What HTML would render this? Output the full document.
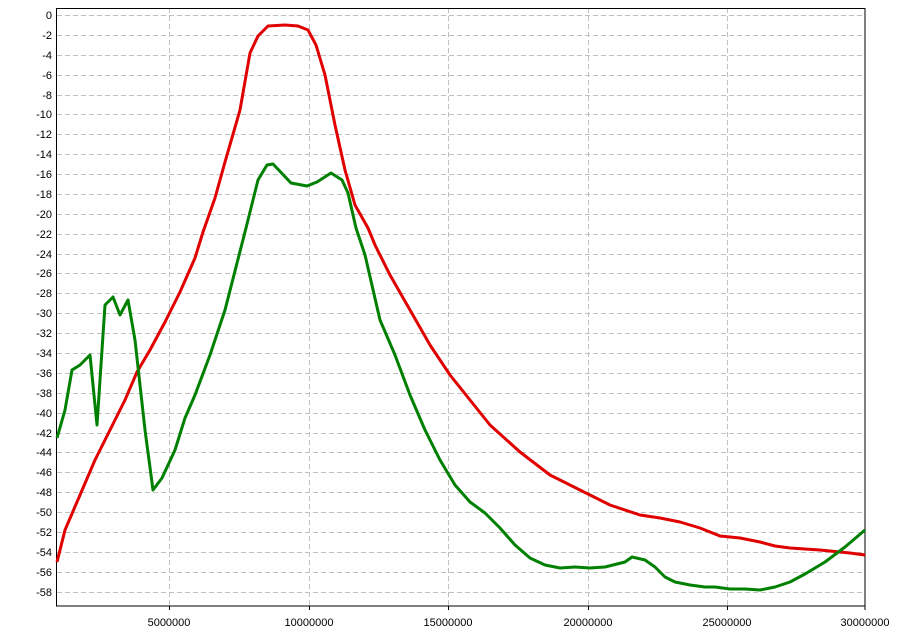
<!DOCTYPE html><html><head><style>body{margin:0;background:#fff}svg{display:block;font-family:"Liberation Sans",sans-serif;font-size:11px}</style></head><body>
<svg width="902" height="631" xmlns="http://www.w3.org/2000/svg">
<rect width="902" height="631" fill="#fff"/>
<g stroke="#c0c0c0" stroke-dasharray="5,3" stroke-width="1">
<path d="M57 15.5H865M57 35.5H865M57 55.5H865M57 75.5H865M57 95.5H865M57 114.5H865M57 134.5H865M57 154.5H865M57 174.5H865M57 194.5H865M57 214.5H865M57 234.5H865M57 254.5H865M57 273.5H865M57 293.5H865M57 313.5H865M57 333.5H865M57 353.5H865M57 373.5H865M57 393.5H865M57 413.5H865M57 433.5H865M57 452.5H865M57 472.5H865M57 492.5H865M57 512.5H865M57 532.5H865M57 552.5H865M57 572.5H865M57 592.5H865"/>
<path d="M169.5 8V606M309.5 8V606M448.5 8V606M588.5 8V606M727.5 8V606"/>
</g>
<rect x="56.5" y="8.5" width="808.5" height="597.5" fill="none" stroke="#000"/>
<g stroke="#000"><path d="M169.5 606v4M309.5 606v4M448.5 606v4M588.5 606v4M727.5 606v4M865 606v4"/></g>
<g text-anchor="end" fill="#000">
<text x="52" y="19">0</text><text x="52" y="39">-2</text><text x="52" y="59">-4</text><text x="52" y="79">-6</text><text x="52" y="99">-8</text><text x="52" y="118">-10</text><text x="52" y="138">-12</text><text x="52" y="158">-14</text><text x="52" y="178">-16</text><text x="52" y="198">-18</text><text x="52" y="218">-20</text><text x="52" y="238">-22</text><text x="52" y="258">-24</text><text x="52" y="277">-26</text><text x="52" y="297">-28</text><text x="52" y="317">-30</text><text x="52" y="337">-32</text><text x="52" y="357">-34</text><text x="52" y="377">-36</text><text x="52" y="397">-38</text><text x="52" y="417">-40</text><text x="52" y="437">-42</text><text x="52" y="456">-44</text><text x="52" y="476">-46</text><text x="52" y="496">-48</text><text x="52" y="516">-50</text><text x="52" y="536">-52</text><text x="52" y="556">-54</text><text x="52" y="576">-56</text><text x="52" y="596">-58</text>
</g>
<g text-anchor="middle"><text x="169" y="626">5000000</text><text x="309" y="626">10000000</text><text x="448" y="626">15000000</text><text x="588" y="626">20000000</text><text x="727" y="626">25000000</text><text x="865" y="626">30000000</text></g>
<polyline fill="none" stroke="#e00000" stroke-width="3" stroke-linejoin="round" points="57,562 65,530 80,495 95,460 110,430 125,400 137,372 150,350 165,322 180,292 195,258 203,232 215,198 225,162 240,110 250,53 258,36 268,26 285,25 298,26 308,30 316,45 325,75 335,125 345,170 355,205 368,228 375,245 390,275 410,310 430,345 450,375 470,400 490,425 520,452 550,475 580,490 610,505 640,515 660,518 680,522 700,528 720,536 740,538 760,542 775,546 790,548 820,550 850,553 865,555"/>
<polyline fill="none" stroke="#008000" stroke-width="3" stroke-linejoin="round" points="57,438 65,410 72,370 80,365 90,355 97,425 105,305 113,297 120,315 128,300 135,340 145,430 153,490 162,478 175,450 185,418 195,395 210,355 225,310 246,228 258,180 267,165 273,164 291,183 307,186 317,182 331,173 342,180 348,193 356,228 365,255 380,320 395,355 410,395 425,430 440,460 455,485 470,502 485,513 500,528 515,545 530,558 545,565 560,568 575,567 590,568 605,567 625,562 632,557 645,560 655,567 665,577 675,582 690,585 705,587 715,587 730,589 745,589 760,590 775,587 790,582 805,574 825,562 845,547 865,530"/>
</svg></body></html>
